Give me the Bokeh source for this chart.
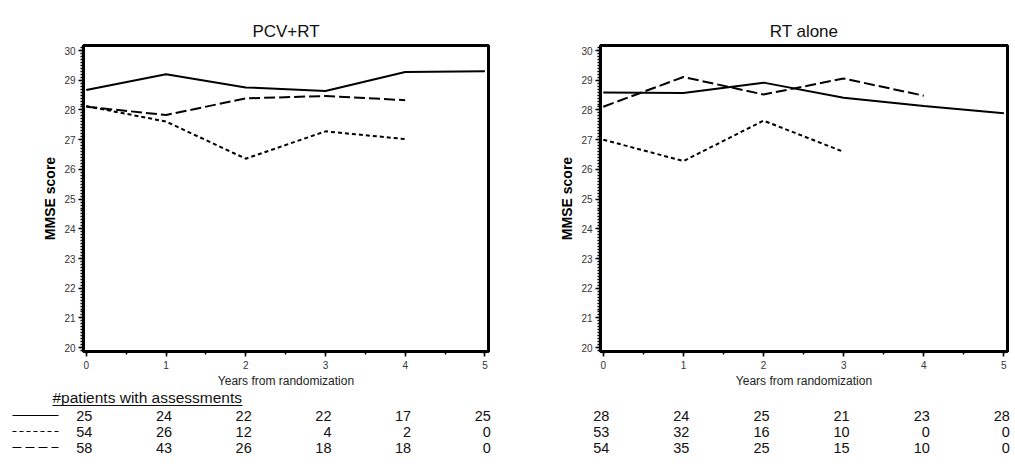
from bokeh.plotting import figure
from bokeh.models import Range1d, SingleIntervalTicker, LinearAxis, FixedTicker
from bokeh.layouts import row, column
from bokeh.core.properties import value
from bokeh.embed import file_html
from bokeh.resources import INLINE

# ---------------- data ----------------
years = [0, 1, 2, 3, 4, 5]
years4 = [0, 1, 2, 3, 4]
years3 = [0, 1, 2, 3]

pcv_solid = [28.67, 29.20, 28.76, 28.64, 29.28, 29.30]
pcv_short = [28.13, 27.61, 26.36, 27.28, 27.02]
pcv_long = [28.11, 27.83, 28.39, 28.47, 28.33]

rt_solid = [28.59, 28.57, 28.92, 28.41, 28.13, 27.89]
rt_short = [27.00, 26.28, 27.64, 26.59]
rt_long = [28.11, 29.11, 28.52, 29.06, 28.48]

pcv_n_solid = [25, 24, 22, 22, 17, 25]
pcv_n_short = [54, 26, 12, 4, 2, 0]
pcv_n_long = [58, 43, 26, 18, 18, 0]

rt_n_solid = [28, 24, 25, 21, 23, 28]
rt_n_short = [53, 32, 16, 10, 0, 0]
rt_n_long = [54, 35, 25, 15, 10, 0]

titles = ["PCV+RT", "RT alone"]
x_label = "Years from randomization"
y_label = "MMSE score"
table_header = "#patients with assessments"

# ---------------- styles ----------------
FONT = value("Liberation Sans")
SHORT_DASH = "4 3"
LONG_DASH = "11 4"
LEG_SHORT = "4 3"
LEG_LONG = "9 4"
X0, X1 = -0.035, 5.045
Y0, Y1 = 19.87, 30.17
BORDER_TOP = 45
FRAME_H = 307
BORDER_BOTTOM = 38
CHART_H = BORDER_TOP + FRAME_H + BORDER_BOTTOM
TABLE_H = 72


def frame_axis(p, side):
    ax = LinearAxis(ticker=FixedTicker(ticks=[]),
                    axis_line_width=3, axis_line_color="black",
                    major_tick_line_color=None, minor_tick_line_color=None,
                    major_label_standoff=0, major_tick_out=0, minor_tick_out=0)
    p.add_layout(ax, side)


def make_chart(title, solid, short, long_, short_x, long_x, width, b_left, b_right):
    p = figure(width=width, height=CHART_H, x_range=Range1d(X0, X1), y_range=Range1d(Y0, Y1),
               toolbar_location=None, output_backend="svg",
               min_border_left=b_left, min_border_right=b_right,
               min_border_top=BORDER_TOP, min_border_bottom=BORDER_BOTTOM)
    p.title.text = title
    p.title.align = "center"
    p.title.text_font = "Liberation Sans"
    p.title.text_font_size = "17px"
    p.title.text_font_style = "normal"
    p.title.text_color = "#111111"
    p.grid.visible = False
    p.outline_line_color = "black"
    p.outline_line_width = 3

    p.xaxis.ticker = SingleIntervalTicker(interval=1, num_minor_ticks=2)
    p.yaxis.ticker = SingleIntervalTicker(interval=1, num_minor_ticks=10)
    for ax in (p.xaxis, p.yaxis):
        ax.axis_line_width = 3
        ax.major_tick_line_width = 1.5
        ax.minor_tick_line_width = 1.5
        ax.major_tick_in = 0
        ax.major_tick_out = 5
        ax.minor_tick_in = 0
        ax.minor_tick_out = 3
        ax.major_label_text_font = "Liberation Sans"
        ax.major_label_text_font_size = "10px"
        ax.major_label_text_color = "#333333"
        ax.axis_label_text_font = "Liberation Sans"
        ax.axis_label_text_color = "#222222"
    p.xaxis.axis_label = x_label
    p.xaxis.axis_label_text_font_size = "12px"
    p.xaxis.axis_label_text_font_style = "normal"
    p.xaxis.major_label_standoff = 4
    p.xaxis.axis_label_standoff = 2
    p.yaxis.axis_label = y_label
    p.yaxis.axis_label_text_font_size = "14px"
    p.yaxis.axis_label_text_font_style = "bold"
    p.yaxis.axis_label_text_color = "black"
    p.yaxis.major_label_standoff = 3
    p.yaxis.axis_label_standoff = 3

    frame_axis(p, "right")
    frame_axis(p, "above")

    p.line(years, solid, line_color="black", line_width=2)
    p.line(short_x, short, line_color="black", line_width=2, line_dash=SHORT_DASH)
    p.line(long_x, long_, line_color="black", line_width=2, line_dash=LONG_DASH)
    return p


def make_table(rows_counts, width, b_left, b_right, frame_w, with_legend):
    ppu = frame_w / (X1 - X0)
    xr = Range1d(X0 - b_left / ppu, X1 + b_right / ppu)
    t = figure(width=width, height=TABLE_H, x_range=xr, y_range=Range1d(TABLE_H, 0),
               toolbar_location=None, output_backend="svg", min_border=0,
               x_axis_location=None, y_axis_location=None)
    t.grid.visible = False
    t.outline_line_color = None

    def px2x(px):
        return xr.start + px / ppu

    row_y0, row_h = 25, 16
    dashes = ["solid", LEG_SHORT, LEG_LONG]
    for i, counts in enumerate(rows_counts):
        y = row_y0 + row_h * i
        t.text(x=years, y=[y] * len(years), text=[str(c) for c in counts],
               text_align="right", text_baseline="middle", x_offset=6,
               text_font=FONT, text_font_size="14.5px", text_color="#111111")
        if with_legend:
            t.line([px2x(12), px2x(58)], [y, y], line_color="black", line_width=1,
                   line_dash=dashes[i])
    if with_legend:
        t.text(x=[px2x(52)], y=[7], text=[table_header], text_align="left",
               text_baseline="middle", text_font=FONT, text_font_size="15.5px",
               text_color="#111111")
        t.line([px2x(52), px2x(242)], [15, 15], line_color="#111111", line_width=1)
    return t


L_W, L_BL, L_BR = 525, 83, 37
R_W, R_BL, R_BR = 488, 75, 6

cL = make_chart(titles[0], pcv_solid, pcv_short, pcv_long, years4, years4, L_W, L_BL, L_BR)
cR = make_chart(titles[1], rt_solid, rt_short, rt_long, years3, years4, R_W, R_BL, R_BR)
tL = make_table([pcv_n_solid, pcv_n_short, pcv_n_long], L_W, L_BL, L_BR, L_W - L_BL - L_BR, True)
tR = make_table([rt_n_solid, rt_n_short, rt_n_long], R_W, R_BL, R_BR, R_W - R_BL - R_BR, False)

layout = column(row(cL, cR), row(tL, tR))
open("out.html", "w").write(file_html(layout, INLINE))
